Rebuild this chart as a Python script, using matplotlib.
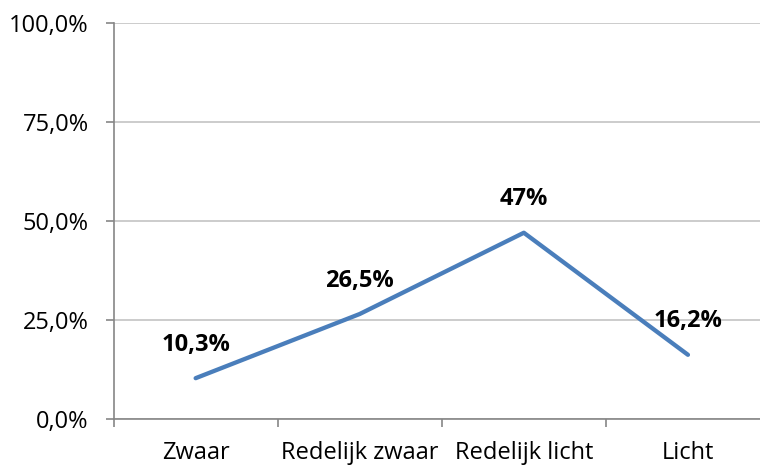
import matplotlib.pyplot as plt
from matplotlib.ticker import FuncFormatter, FixedLocator

categories = ['Zwaar', 'Redelijk zwaar', 'Redelijk licht', 'Licht']
values = [10.3, 26.5, 47.0, 16.2]
labels = ['10,3%', '26,5%', '47%', '16,2%']
yticks = [0, 25, 50, 75, 100]

plt.rcParams['font.family'] = ['Open Sans', 'DejaVu Sans']

fig = plt.figure(figsize=(7.6, 4.68), dpi=100)
ax = fig.add_axes([113.6 / 760, 49 / 468, (770 - 113.6) / 760, (419 - 22.7) / 468])

x = list(range(len(categories)))
ax.plot(x, values, color='#4A7EBB', lw=3.1, solid_capstyle='round', zorder=3)
for xi, v, t in zip(x, values, labels):
    ax.annotate(t, (xi, v), xytext=(0, 24), textcoords='offset points',
                ha='center', va='center', fontsize=17, fontweight='bold')

ax.set_xlim(-0.5, 3.5)
ax.set_ylim(0, 100)
ax.set_yticks(yticks)
ax.yaxis.set_major_formatter(FuncFormatter(lambda v, p: f'{v:.1f}%'.replace('.', ',')))
ax.yaxis.grid(True, color='#C8C8C8', lw=1.3)
ax.set_axisbelow(True)

ax.set_xticks(x)
ax.set_xticklabels(categories)
ax.xaxis.set_minor_locator(FixedLocator([-0.5, 0.5, 1.5, 2.5, 3.5]))
ax.tick_params(axis='x', which='major', length=0, pad=16, labelsize=17)
ax.tick_params(axis='x', which='minor', length=6, width=1.2, color='#868686')
ax.tick_params(axis='y', length=6, width=1.2, color='#868686', labelsize=17, pad=12)

for s in ['top', 'right']:
    ax.spines[s].set_visible(False)
for s in ['left', 'bottom']:
    ax.spines[s].set_color('#868686')
    ax.spines[s].set_linewidth(1.2)

fig.savefig('out.png', dpi=100)
